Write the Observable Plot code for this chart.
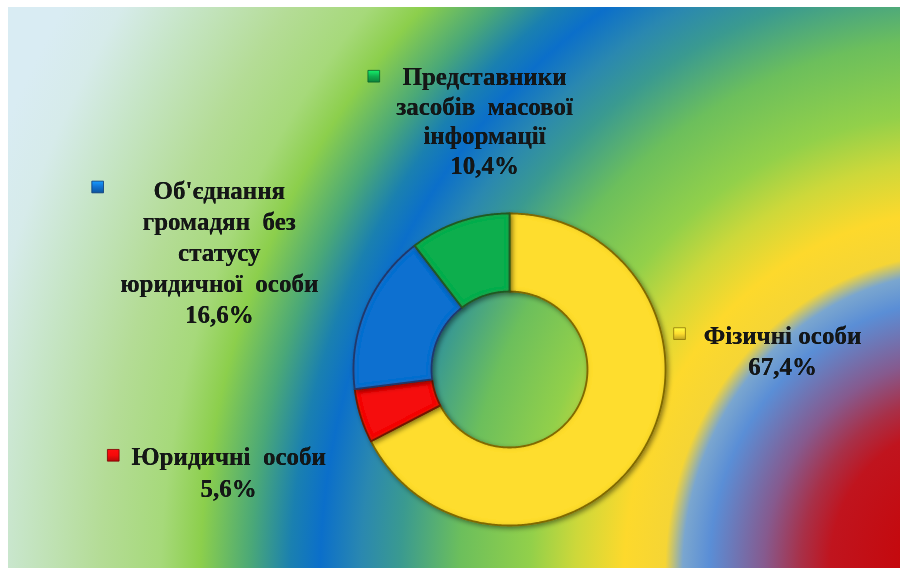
<!DOCTYPE html>
<html>
<head>
<meta charset="utf-8">
<script src="https://cdn.jsdelivr.net/npm/d3@7"></script>
<script src="https://cdn.jsdelivr.net/npm/@observablehq/plot@0.6"></script>
<style>
  html, body { margin: 0; padding: 0; background: #ffffff; }
  #chart svg text { white-space: pre; }
</style>
</head>
<body>
<div id="chart"></div>
<script>
// ---- data ----
const categories = [
  "Фізичні особи",
  "Юридичні особи",
  "Об'єднання громадян без статусу юридичної особи",
  "Представники засобів масової інформації"
];
const shares = [67.4, 5.6, 16.6, 10.4];
const shareLabels = ["67,4%", "5,6%", "16,6%", "10,4%"];
const labelLines = [
  ["Фізичні особи"],
  ["Юридичні  особи"],
  ["Об'єднання", "громадян  без", "статусу", "юридичної  особи"],
  ["Представники", "засобів  масової", "інформації"]
];

// ---- styling / layout (not data) ----
const fills = ["#fedd2f", "#f50a0a", "#1170d0", "#0fae4e"];
const edges = ["#8a7208", "#7a0000", "#0a3a78", "#0a602a"];
const innerR = 0.5;
// label block centres and legend-key positions, in donut-radius units
const labelPos = [[1.75, 0.13], [-1.8, -0.65], [-1.86, 0.76], [-0.16, 1.6]];
const keyPos = [[1.09, 0.23], [-2.54, -0.55], [-2.64, 1.17], [-0.87, 1.88]];
const lineHeights = [1.26, 1.26, 1.24, 1.2];

const table = categories.map((c, i) => ({
  cat: c, share: shares[i], pct: shareLabels[i], lines: labelLines[i],
  fill: fills[i], edge: edges[i]
}));

const arcs = d3.pie().sort(null).value(d => d.share).startAngle(0).endAngle(2 * Math.PI)(table);

function slicePolygon(a) {
  const pts = [];
  const n = Math.max(8, Math.ceil((a.endAngle - a.startAngle) / (Math.PI / 360)));
  for (let k = 0; k <= n; k++) {
    const t = a.startAngle + (a.endAngle - a.startAngle) * k / n;
    pts.push({x: Math.sin(t), y: Math.cos(t)});
  }
  for (let k = n; k >= 0; k--) {
    const t = a.startAngle + (a.endAngle - a.startAngle) * k / n;
    pts.push({x: innerR * Math.sin(t), y: innerR * Math.cos(t)});
  }
  return pts;
}

const sliceMarks = arcs.map((a, i) => Plot.line(slicePolygon(a), {
  x: "x", y: "y", curve: "linear-closed",
  fill: a.data.fill, stroke: a.data.edge, strokeWidth: 1.8, strokeLinejoin: "round",
  className: "slice"
}));

const labelData = table.map((d, i) => ({
  x: labelPos[i][0], y: labelPos[i][1],
  text: d.lines.join("\n") + "\n" + d.pct, lh: lineHeights[i]
}));
const keyData = table.map((d, i) => ({x: keyPos[i][0], y: keyPos[i][1], idx: i}));

const textMarks = labelData.map(d => Plot.text([d], {
  x: "x", y: "y", text: "text", lineHeight: d.lh,
  textAnchor: "middle", lineAnchor: "middle",
  fontFamily: "'Liberation Serif', 'Times New Roman', serif", fontWeight: "bold",
  fontSize: 25, fill: "#121618"
}));

const keyMarks = keyData.map(d => Plot.dot([d], {
  x: "x", y: "y", symbol: "square", r: 6.6,
  fill: `url(#key${d.idx})`, stroke: edges[d.idx], strokeWidth: 0.8
}));

const svg = Plot.plot({
  width: 908, height: 575,
  marginLeft: 353, marginRight: 243, marginTop: 213, marginBottom: 50,
  x: {domain: [-1, 1], axis: null},
  y: {domain: [-1, 1], axis: null},
  style: {background: "transparent", overflow: "visible"},
  marks: [...sliceMarks, ...keyMarks, ...textMarks]
});

// ---- background and effects ----
const ns = "http://www.w3.org/2000/svg";
const defs = document.createElementNS(ns, "defs");
const stops = [
  [0, "#c80000"], [0.118, "#c0141e"], [0.145, "#a83048"], [0.178, "#865a8e"],
  [0.228, "#5a8ed6"], [0.252, "#7aa6cf"], [0.268, "#f5d535"], [0.305, "#fdd92c"],
  [0.35, "#cdd83a"], [0.391, "#92d04a"], [0.455, "#6cbf5c"], [0.509, "#3a9a90"],
  [0.545, "#2a88b0"], [0.582, "#0b6fca"], [0.609, "#1a80b0"], [0.645, "#4aa878"],
  [0.691, "#8ccf4c"], [0.727, "#a6d97a"], [0.782, "#b4dc96"], [0.855, "#c6e5c6"],
  [0.909, "#d6ebea"], [0.955, "#d9ecf3"], [1, "#d9ecf3"]
];
let g = `<radialGradient id="bg" gradientUnits="userSpaceOnUse" cx="960" cy="600" r="1100" fx="960" fy="565"
  gradientTransform="translate(960,600) scale(1,1.08) translate(-960,-600)">` +
  stops.map(s => `<stop offset="${s[0]}" stop-color="${s[1]}"/>`).join("") + `</radialGradient>`;
fills.forEach((f, i) => {
  const c = d3.color(f);
  g += `<linearGradient id="key${i}" x1="0" y1="0" x2="0" y2="1">
    <stop offset="0" stop-color="${c.brighter(0.9)}"/>
    <stop offset="0.5" stop-color="${f}"/>
    <stop offset="1" stop-color="${c.darker(0.8)}"/></linearGradient>`;
});
g += `<filter id="shadow" x="-20%" y="-20%" width="140%" height="140%">
  <feGaussianBlur in="SourceAlpha" stdDeviation="2.5" result="blur"/>
  <feOffset in="blur" dx="1.5" dy="2" result="off"/>
  <feFlood flood-color="#000" flood-opacity="0.45"/>
  <feComposite in2="off" operator="in" result="drop"/>
  <feComposite in="SourceAlpha" in2="blur" operator="out" result="rim"/>
  <feFlood flood-color="#4a3a00" flood-opacity="0.55"/>
  <feComposite in2="rim" operator="in" result="rimc"/>
  <feMerge><feMergeNode in="drop"/><feMergeNode in="SourceGraphic"/><feMergeNode in="rimc"/></feMerge>
</filter>
<filter id="tshadow" x="-10%" y="-10%" width="120%" height="120%">
  <feGaussianBlur in="SourceAlpha" stdDeviation="0.6" result="b"/>
  <feMerge><feMergeNode in="b"/><feMergeNode in="SourceGraphic"/></feMerge>
</filter>`;
defs.innerHTML = g;
svg.insertBefore(defs, svg.firstChild);

const bgWhite = document.createElementNS(ns, "rect");
bgWhite.setAttribute("width", 908); bgWhite.setAttribute("height", 575);
bgWhite.setAttribute("fill", "#ffffff");
const bg = document.createElementNS(ns, "rect");
bg.setAttribute("x", 8); bg.setAttribute("y", 7);
bg.setAttribute("width", 892); bg.setAttribute("height", 561);
bg.setAttribute("fill", "url(#bg)");
svg.insertBefore(bg, defs.nextSibling);
svg.insertBefore(bgWhite, bg);

svg.querySelectorAll("g[aria-label='line']").forEach(el => el.setAttribute("filter", "url(#shadow)"));
svg.querySelectorAll("g[aria-label='text']").forEach(el => el.setAttribute("filter", "url(#tshadow)"));

document.getElementById("chart").appendChild(svg);
</script>
</body>
</html>
